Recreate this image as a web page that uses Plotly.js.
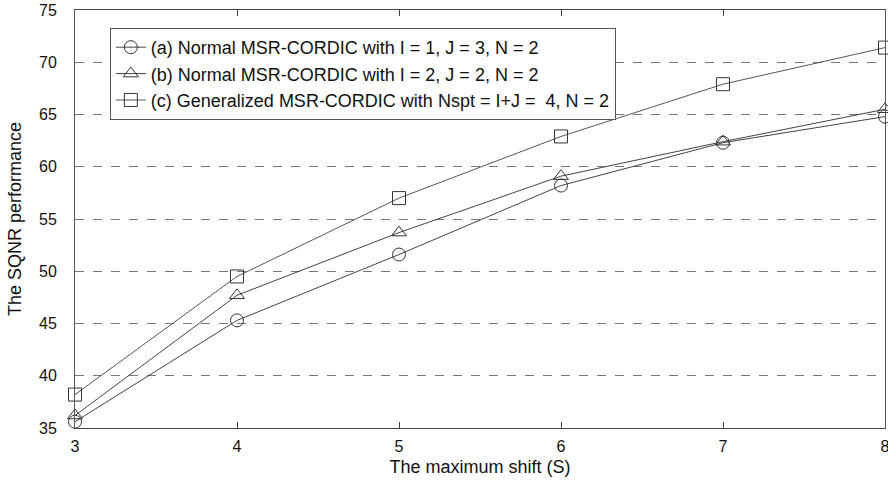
<!DOCTYPE html>
<html>
<head>
<meta charset="utf-8">
<script src="https://cdn.plot.ly/plotly-3.0.1.min.js"></script>
<style>html,body{margin:0;padding:0;background:#fff;}#chart{width:888px;height:489px;}</style>
</head>
<body>
<div id="chart"></div>
<script>
const maxShift = [3, 4, 5, 6, 7, 8];
const sqnrA = [35.6, 45.3, 51.6, 58.2, 62.3, 64.8];
const sqnrB = [36.2, 47.7, 53.7, 59.1, 62.4, 65.5];
const sqnrC = [38.2, 49.5, 57.0, 62.9, 67.9, 71.4];
const seriesNames = [
  '(a) Normal MSR-CORDIC with I = 1, J = 3, N = 2',
  '(b) Normal MSR-CORDIC with I = 2, J = 2, N = 2',
  '(c) Generalized MSR-CORDIC with Nspt = I+J =  4, N = 2'
];
const xTicks = [3, 4, 5, 6, 7, 8];
const yTicks = [35, 40, 45, 50, 55, 60, 65, 70, 75];

const symbols = ['circle-open', 'triangle-up-open', 'square-open'];
const lineColors = ['#444', '#444', '#555'];
const allY = [sqnrA, sqnrB, sqnrC];
const traces = allY.map((ys, i) => ({
  x: maxShift, y: ys, name: seriesNames[i], type: 'scatter', mode: 'lines+markers',
  line: {color: lineColors[i], width: 1},
  marker: {symbol: symbols[i], size: 13, color: '#333', line: {color: '#333', width: 1}},
  cliponaxis: false
}));

const layout = {
  width: 888, height: 489,
  margin: {l: 75, r: 3, t: 10, b: 61},
  paper_bgcolor: '#fff', plot_bgcolor: '#fff',
  font: {family: 'Liberation Sans, Arial, sans-serif', size: 15, color: '#111'},
  showlegend: true,
  legend: {x: 0.043, y: 0.957, xanchor: 'left', yanchor: 'top',
    bgcolor: '#fff', bordercolor: '#555', borderwidth: 1,
    font: {size: 18, color: '#111'}, tracegroupgap: 0, itemwidth: 30},
  xaxis: {
    range: [3, 8], tickvals: xTicks, ticktext: xTicks.map(String),
    showgrid: false, zeroline: false,
    showline: true, linecolor: '#444', linewidth: 1, mirror: 'ticks',
    ticks: 'inside', ticklen: 6, tickcolor: '#444',
    tickfont: {size: 16}, ticklabeloverflow: 'allow', ticklabelstandoff: 4,
    title: {text: 'The maximum shift (S)', font: {size: 18}, standoff: 6}
  },
  yaxis: {
    range: [35, 75], tickvals: yTicks, ticktext: yTicks.map(String),
    showgrid: true, gridcolor: '#777', griddash: 'dash', gridwidth: 1,
    zeroline: false,
    showline: true, linecolor: '#555', linewidth: 1, mirror: true,
    ticks: '', tickfont: {size: 16}, ticklabelstandoff: 14, ticklabeloverflow: 'allow',
    title: {text: 'The SQNR performance', font: {size: 18}, standoff: 12}
  }
};
Plotly.newPlot('chart', traces, layout, {displayModeBar: false, staticPlot: true});
</script>
</body>
</html>
